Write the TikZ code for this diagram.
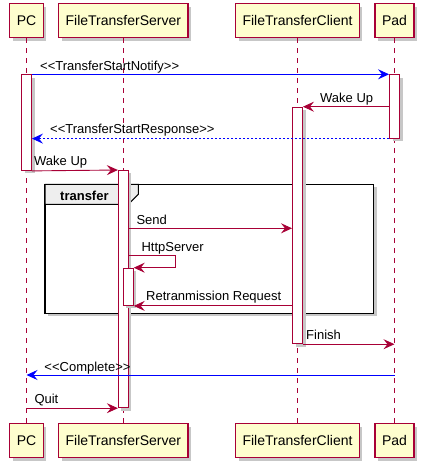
\documentclass[tikz,border=0pt]{standalone}
\usepackage{fontspec}
\newfontfamily\umlfont{Liberation Sans}
\usetikzlibrary{arrows.meta,shadows}
\definecolor{umlred}{HTML}{A80036}
\definecolor{umlyellow}{HTML}{FEFECE}
\definecolor{umltab}{HTML}{EEEEEE}
\tikzset{
  shade box/.style={drop shadow={shadow xshift=3pt,shadow yshift=-3pt,fill=black!22,opacity=1}},
  participant/.style={draw=umlred,fill=umlyellow,line width=1.2pt,minimum height=34pt,inner xsep=7pt,font=\umlfont\fontsize{14}{16}\selectfont,shade box},
  lifeline/.style={draw=umlred,line width=0.9pt,dash pattern=on 5pt off 5pt},
  act/.style={draw=umlred,fill=white,line width=0.9pt,minimum width=10pt,inner sep=0pt,anchor=north,shade box},
  msg/.style={draw=umlred,line width=0.9pt,-{Stealth[length=11pt,width=10pt,inset=4pt]}},
  bluemsg/.style={msg,draw=blue},
  lbl/.style={anchor=base west,inner sep=0pt,font=\umlfont\fontsize{13}{15}\selectfont}
}
\begin{document}
\begin{tikzpicture}[x=1pt,y=-1pt]
  \useasboundingbox (0,0) rectangle (422,467);
  \foreach \n/\x/\t in {PC/26.5/PC,FS/123.3/FileTransferServer,FC/297.5/FileTransferClient,PD/394.5/Pad} {
    \node[participant] (\n-top) at (\x,20.5) {\t};
    \node[participant] (\n-bot) at (\x,440.5) {\t};
    \draw[lifeline] (\n-top.south) -- (\n-bot.north);
  }
  \draw[line width=1.5pt,fill=white,shade box] (45,184.3) rectangle (373.7,313.3);
  \draw[line width=1pt,fill=umltab] (45,184.3) -- (138.3,184.3) -- (138.3,194.3) -- (128.3,204.3) -- (45,204.3) -- cycle;
  \node[lbl,font=\umlfont\bfseries\fontsize{13}{15}\selectfont] (frm) at (60,200) {transfer};
  \node[act,minimum height=95.7pt] (aPC) at (26.5,74.3) {};
  \node[act,minimum height=63.4pt] (aPD) at (394.5,74.3) {};
  \node[act,minimum height=236.6pt] (aFC) at (297.5,106.7) {};
  \node[act,minimum height=237.3pt] (aFS) at (123.3,170) {};
  \node[act,minimum height=37.3pt] (aHS) at (128.3,267.7) {};
  \coordinate (send) at (0,228.3);
  \coordinate (loop) at (175,255.7);
  \coordinate (done) at (0,375);
  \draw[bluemsg] (aPC.north east) -- (aPD.north west);
  \draw[msg] (aPD.west |- aFC.north) -- (aFC.north east);
  \draw[bluemsg,dash pattern=on 2pt off 2pt] (aPD.south west) -- (aPC.east |- aPD.south);
  \draw[msg] (aPC.south east) -- (aFS.north west);
  \draw[msg] (aFS.east |- send) -- (aFC.west |- send);
  \draw[msg] (aFS.east |- loop) -- (loop) |- (aHS.north east);
  \draw[msg] (aFC.west |- aHS.south) -- (aHS.south east);
  \draw[msg] (aFC.south east) -- (aFC.south -| PD-top);
  \draw[bluemsg] (PD-top |- done) -- (PC-top |- done);
  \draw[msg] (PC-top |- aFS.south) -- (aFS.south west);
  \path
  (40,70) node[lbl] (m1) {<<TransferStartNotify>>}
  (320,102) node[lbl] (m2) {Wake Up}
  (50,133) node[lbl] (m3) {<<TransferStartResponse>>}
  (34,165.5) node[lbl] (m4) {Wake Up}
  (136.3,224) node[lbl] (m5) {Send}
  (141.3,251) node[lbl] (m6) {HttpServer}
  (146,300) node[lbl] (m7) {Retranmission Request}
  (306,339) node[lbl] (m8) {Finish}
  (44.3,371) node[lbl] (m9) {<<Complete>>}
  (34.3,403) node[lbl] (m10) {Quit};
\end{tikzpicture}
\end{document}
